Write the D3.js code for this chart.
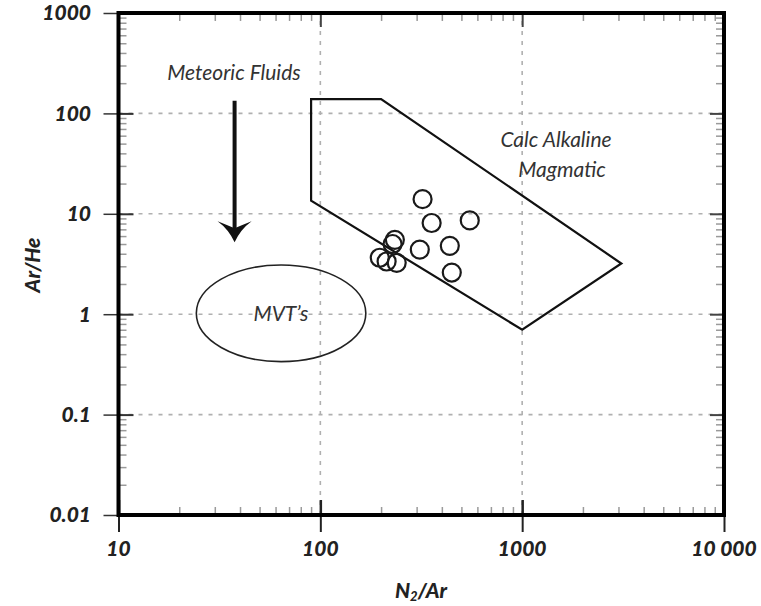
<!DOCTYPE html>
<html><head><meta charset="utf-8">
<script src="https://cdn.jsdelivr.net/npm/d3@7"></script>
<style>
html,body{margin:0;padding:0;background:#fff;}
svg{display:block;}
text{font-family:Lato,"Open Sans",sans-serif;}
</style></head>
<body>
<svg id="chart" width="761" height="606"></svg>
<script>
// ---- data ----
const xTickValues = [10, 100, 1000, 10000];
const xTickLabels = ["10", "100", "1000", "10 000"];
const yTickValues = [0.01, 0.1, 1, 10, 100, 1000];
const yTickLabels = ["0.01", "0.1", "1", "10", "100", "1000"];

// samples: N2/Ar and Ar/He
const sampleN2Ar = [321, 356, 550, 234, 228, 311, 438, 197, 213, 239, 448];
const sampleArHe = [14.0, 8.1, 8.6, 5.5, 5.0, 4.4, 4.8, 3.65, 3.35, 3.25, 2.6];

// calc-alkaline magmatic field polygon
const fieldN2Ar = [90, 200, 3100, 1000, 90];
const fieldArHe = [139, 139, 3.2, 0.7, 13.5];

// MVT ellipse extents
const mvtN2Ar = [24.3, 168];
const mvtArHe = [0.337, 3.09];

// meteoric arrow
const arrowN2Ar = 37.6;
const arrowArHe = [134, 5.2];

// ---- chart ----
const svg = d3.select("#chart");
const x = d3.scaleLog().domain([10, 10000]).range([118.5, 724]);
const y = d3.scaleLog().domain([0.01, 1000]).range([515, 13]);
const [x0, x1] = x.range();
const [y0, y1] = y.range();

const isMajor = v => Math.abs(Math.log10(v) - Math.round(Math.log10(v))) < 1e-9;
const xMinor = x.ticks().filter(v => !isMajor(v));
const yMinor = y.ticks().filter(v => !isMajor(v));

// gridlines
const grid = svg.append("g").attr("stroke", "#b0b0b0").attr("stroke-width", 1.6)
  .attr("stroke-dasharray", "4,6");
grid.selectAll(".gx").data(xTickValues.slice(1, -1)).join("line")
  .attr("x1", d => x(d)).attr("x2", d => x(d)).attr("y1", y0).attr("y2", y1);
grid.selectAll(".gy").data(yTickValues.slice(1, -1)).join("line")
  .attr("y1", d => y(d)).attr("y2", d => y(d)).attr("x1", x0).attr("x2", x1);

function styleAxis(g, color, width) {
  g.select(".domain").remove();
  g.selectAll(".tick line").attr("stroke", color).attr("stroke-width", width);
  g.selectAll(".tick text").remove();
}

// minor ticks (inside, grey) on all 4 sides
svg.append("g").attr("transform", `translate(0,${y0})`)
  .call(d3.axisBottom(x).tickValues(xMinor).tickSize(-8)).call(g => styleAxis(g, "#9a9a9a", 1.5));
svg.append("g").attr("transform", `translate(0,${y1})`)
  .call(d3.axisTop(x).tickValues(xMinor).tickSize(-8)).call(g => styleAxis(g, "#9a9a9a", 1.5));
svg.append("g").attr("transform", `translate(${x0},0)`)
  .call(d3.axisLeft(y).tickValues(yMinor).tickSize(-8)).call(g => styleAxis(g, "#9a9a9a", 1.5));
svg.append("g").attr("transform", `translate(${x1},0)`)
  .call(d3.axisRight(y).tickValues(yMinor).tickSize(-8)).call(g => styleAxis(g, "#9a9a9a", 1.5));

// major ticks
svg.append("g").attr("transform", `translate(0,${y0})`)
  .call(d3.axisBottom(x).tickValues(xTickValues).tickSize(17)).call(g => styleAxis(g, "#222", 2));
svg.append("g").attr("transform", `translate(0,${y0})`)
  .call(d3.axisBottom(x).tickValues(xTickValues).tickSize(-15)).call(g => styleAxis(g, "#222", 2.5));
svg.append("g").attr("transform", `translate(${x0},0)`)
  .call(d3.axisLeft(y).tickValues(yTickValues).tickSize(15)).call(g => styleAxis(g, "#333", 1.5));
svg.append("g").attr("transform", `translate(${x0},0)`)
  .call(d3.axisLeft(y).tickValues(yTickValues).tickSize(-15)).call(g => styleAxis(g, "#333", 2));
svg.append("g").attr("transform", `translate(${x1},0)`)
  .call(d3.axisRight(y).tickValues(yTickValues).tickSize(-14)).call(g => styleAxis(g, "#444", 2));
svg.append("g").attr("transform", `translate(0,${y1})`)
  .call(d3.axisTop(x).tickValues(xTickValues).tickSize(-14)).call(g => styleAxis(g, "#444", 2));

// frame
svg.append("rect").attr("x", x0).attr("y", y1).attr("width", x1 - x0).attr("height", y0 - y1)
  .attr("fill", "none").attr("stroke", "#000").attr("stroke-width", 4);

// tick labels
const lab = svg.append("g").attr("font-weight", 900).attr("font-style", "italic")
  .attr("font-size", 21).attr("fill", "#222");
lab.selectAll(".xl").data(xTickValues).join("text")
  .attr("x", d => x(d)).attr("y", 556).attr("text-anchor", "middle")
  .text((d, i) => xTickLabels[i]);
lab.selectAll(".yl").data(yTickValues).join("text")
  .attr("x", 91).attr("y", d => y(d)).attr("dy", "0.35em").attr("text-anchor", "end")
  .text((d, i) => yTickLabels[i]);

// axis titles
const xt = svg.append("text").attr("x", 421).attr("y", 598).attr("text-anchor", "middle")
  .attr("font-weight", 900).attr("font-style", "italic").attr("font-size", 21).attr("fill", "#222");
xt.append("tspan").text("N");
xt.append("tspan").attr("font-size", 13).attr("dy", 3).text("2");
xt.append("tspan").attr("dy", -3).text("/Ar");
svg.append("text").attr("transform", "translate(40,265) rotate(-90)").attr("text-anchor", "middle")
  .attr("font-weight", 900).attr("font-style", "italic").attr("font-size", 21).attr("fill", "#222")
  .text("Ar/He");

// field polygon
svg.append("path")
  .attr("d", d3.line()(fieldN2Ar.map((v, i) => [x(v), y(fieldArHe[i])])) + "Z")
  .attr("fill", "none").attr("stroke", "#111").attr("stroke-width", 2.2).attr("stroke-linejoin", "miter");

// MVT ellipse
svg.append("ellipse")
  .attr("cx", (x(mvtN2Ar[0]) + x(mvtN2Ar[1])) / 2)
  .attr("cy", (y(mvtArHe[0]) + y(mvtArHe[1])) / 2)
  .attr("rx", (x(mvtN2Ar[1]) - x(mvtN2Ar[0])) / 2)
  .attr("ry", (y(mvtArHe[0]) - y(mvtArHe[1])) / 2)
  .attr("fill", "none").attr("stroke", "#222").attr("stroke-width", 1.6);

// arrow (stealth head)
const ax = x(arrowN2Ar), ayTop = y(arrowArHe[0]), ayTip = y(arrowArHe[1]);
svg.append("line").attr("x1", ax).attr("x2", ax).attr("y1", ayTop).attr("y2", ayTip - 12)
  .attr("stroke", "#111").attr("stroke-width", 4);
svg.append("path")
  .attr("d", `M${ax},${ayTip} Q${ax - 6},${ayTip - 13} ${ax - 17},${ayTip - 21} Q${ax - 7},${ayTip - 17} ${ax},${ayTip - 14} Q${ax + 7},${ayTip - 17} ${ax + 17},${ayTip - 21} Q${ax + 6},${ayTip - 13} ${ax},${ayTip} Z`)
  .attr("fill", "#111");

// points
svg.append("g").selectAll("circle").data(sampleN2Ar).join("circle")
  .attr("cx", d => x(d)).attr("cy", (d, i) => y(sampleArHe[i])).attr("r", 9)
  .attr("fill", "none").attr("stroke", "#1a1a1a").attr("stroke-width", 2.2);

// annotations
const ann = svg.append("g").attr("font-style", "italic").attr("font-size", 21).attr("fill", "#333")
  .attr("text-anchor", "middle");
ann.append("text").attr("x", 234).attr("y", 80).text("Meteoric Fluids");
ann.append("text").attr("x", 556).attr("y", 147).text("Calc Alkaline");
ann.append("text").attr("x", 562).attr("y", 177).text("Magmatic");
ann.append("text").attr("x", 281).attr("y", 321).text("MVT’s");
</script>
</body></html>
